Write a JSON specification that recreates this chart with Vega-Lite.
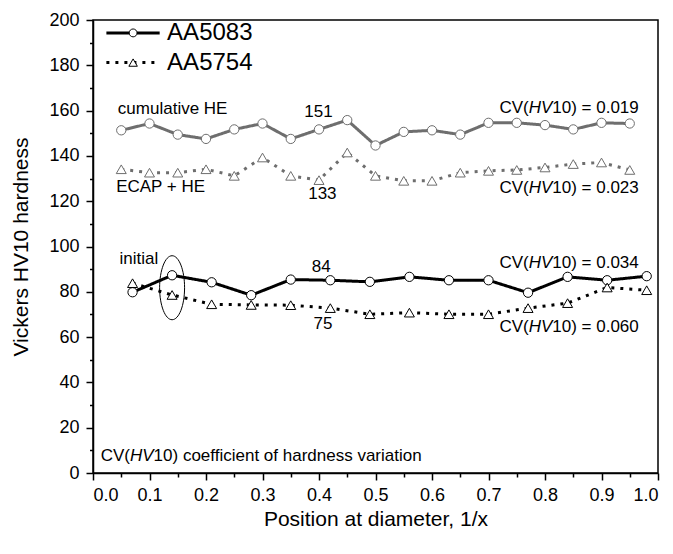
{
  "$schema": "https://vega.github.io/schema/vega-lite/v6.json",
  "width": 565,
  "height": 453,
  "autosize": {"type": "none"},
  "padding": {"left": 93, "top": 20, "right": 15, "bottom": 81},
  "background": "white",
  "config": {
    "font": "Liberation Sans",
    "view": {"stroke": "black", "strokeWidth": 1.5},
    "axis": {
      "domainColor": "black", "domainWidth": 1.5, "tickColor": "black", "tickWidth": 1.5,
      "labelColor": "black", "titleColor": "black", "labelFontSize": 18, "titleFontSize": 21,
      "titleFontWeight": "normal", "grid": false, "labelFont": "Liberation Sans", "titleFont": "Liberation Sans"
    },
    "text": {"font": "Liberation Sans", "fontSize": 17, "color": "black", "baseline": "middle"}
  },
  "datasets": {
    "hv": [
      {"pos": 0.07, "hv": 79.8, "alloy": "AA5083", "state": "initial"},
      {"pos": 0.14, "hv": 87.3, "alloy": "AA5083", "state": "initial"},
      {"pos": 0.21, "hv": 84.2, "alloy": "AA5083", "state": "initial"},
      {"pos": 0.28, "hv": 78.5, "alloy": "AA5083", "state": "initial"},
      {"pos": 0.35, "hv": 85.4, "alloy": "AA5083", "state": "initial"},
      {"pos": 0.42, "hv": 85.1, "alloy": "AA5083", "state": "initial"},
      {"pos": 0.49, "hv": 84.4, "alloy": "AA5083", "state": "initial"},
      {"pos": 0.56, "hv": 86.6, "alloy": "AA5083", "state": "initial"},
      {"pos": 0.63, "hv": 85.1, "alloy": "AA5083", "state": "initial"},
      {"pos": 0.70, "hv": 85.1, "alloy": "AA5083", "state": "initial"},
      {"pos": 0.77, "hv": 79.6, "alloy": "AA5083", "state": "initial"},
      {"pos": 0.84, "hv": 86.6, "alloy": "AA5083", "state": "initial"},
      {"pos": 0.91, "hv": 85.1, "alloy": "AA5083", "state": "initial"},
      {"pos": 0.98, "hv": 86.9, "alloy": "AA5083", "state": "initial"},
      {"pos": 0.07, "hv": 83.8, "alloy": "AA5754", "state": "initial"},
      {"pos": 0.14, "hv": 78.6, "alloy": "AA5754", "state": "initial"},
      {"pos": 0.21, "hv": 74.5, "alloy": "AA5754", "state": "initial"},
      {"pos": 0.28, "hv": 74.2, "alloy": "AA5754", "state": "initial"},
      {"pos": 0.35, "hv": 74.1, "alloy": "AA5754", "state": "initial"},
      {"pos": 0.42, "hv": 72.8, "alloy": "AA5754", "state": "initial"},
      {"pos": 0.49, "hv": 70.1, "alloy": "AA5754", "state": "initial"},
      {"pos": 0.56, "hv": 70.8, "alloy": "AA5754", "state": "initial"},
      {"pos": 0.63, "hv": 70.1, "alloy": "AA5754", "state": "initial"},
      {"pos": 0.70, "hv": 70.1, "alloy": "AA5754", "state": "initial"},
      {"pos": 0.77, "hv": 72.8, "alloy": "AA5754", "state": "initial"},
      {"pos": 0.84, "hv": 75.0, "alloy": "AA5754", "state": "initial"},
      {"pos": 0.91, "hv": 81.9, "alloy": "AA5754", "state": "initial"},
      {"pos": 0.98, "hv": 80.7, "alloy": "AA5754", "state": "initial"},
      {"pos": 0.05, "hv": 151.3, "alloy": "AA5083", "state": "processed"},
      {"pos": 0.10, "hv": 154.3, "alloy": "AA5083", "state": "processed"},
      {"pos": 0.15, "hv": 149.4, "alloy": "AA5083", "state": "processed"},
      {"pos": 0.20, "hv": 147.5, "alloy": "AA5083", "state": "processed"},
      {"pos": 0.25, "hv": 151.7, "alloy": "AA5083", "state": "processed"},
      {"pos": 0.30, "hv": 154.3, "alloy": "AA5083", "state": "processed"},
      {"pos": 0.35, "hv": 147.5, "alloy": "AA5083", "state": "processed"},
      {"pos": 0.40, "hv": 151.7, "alloy": "AA5083", "state": "processed"},
      {"pos": 0.45, "hv": 155.8, "alloy": "AA5083", "state": "processed"},
      {"pos": 0.50, "hv": 144.6, "alloy": "AA5083", "state": "processed"},
      {"pos": 0.55, "hv": 150.6, "alloy": "AA5083", "state": "processed"},
      {"pos": 0.60, "hv": 151.3, "alloy": "AA5083", "state": "processed"},
      {"pos": 0.65, "hv": 149.4, "alloy": "AA5083", "state": "processed"},
      {"pos": 0.70, "hv": 154.6, "alloy": "AA5083", "state": "processed"},
      {"pos": 0.75, "hv": 154.6, "alloy": "AA5083", "state": "processed"},
      {"pos": 0.80, "hv": 153.6, "alloy": "AA5083", "state": "processed"},
      {"pos": 0.85, "hv": 151.7, "alloy": "AA5083", "state": "processed"},
      {"pos": 0.90, "hv": 154.6, "alloy": "AA5083", "state": "processed"},
      {"pos": 0.95, "hv": 154.3, "alloy": "AA5083", "state": "processed"},
      {"pos": 0.05, "hv": 134.1, "alloy": "AA5754", "state": "processed"},
      {"pos": 0.10, "hv": 132.6, "alloy": "AA5754", "state": "processed"},
      {"pos": 0.15, "hv": 132.6, "alloy": "AA5754", "state": "processed"},
      {"pos": 0.20, "hv": 134.1, "alloy": "AA5754", "state": "processed"},
      {"pos": 0.25, "hv": 131.2, "alloy": "AA5754", "state": "processed"},
      {"pos": 0.30, "hv": 139.3, "alloy": "AA5754", "state": "processed"},
      {"pos": 0.35, "hv": 131.2, "alloy": "AA5754", "state": "processed"},
      {"pos": 0.40, "hv": 129.3, "alloy": "AA5754", "state": "processed"},
      {"pos": 0.45, "hv": 141.5, "alloy": "AA5754", "state": "processed"},
      {"pos": 0.50, "hv": 131.2, "alloy": "AA5754", "state": "processed"},
      {"pos": 0.55, "hv": 129.0, "alloy": "AA5754", "state": "processed"},
      {"pos": 0.60, "hv": 129.0, "alloy": "AA5754", "state": "processed"},
      {"pos": 0.65, "hv": 132.6, "alloy": "AA5754", "state": "processed"},
      {"pos": 0.70, "hv": 133.4, "alloy": "AA5754", "state": "processed"},
      {"pos": 0.75, "hv": 133.8, "alloy": "AA5754", "state": "processed"},
      {"pos": 0.80, "hv": 134.9, "alloy": "AA5754", "state": "processed"},
      {"pos": 0.85, "hv": 136.4, "alloy": "AA5754", "state": "processed"},
      {"pos": 0.90, "hv": 137.1, "alloy": "AA5754", "state": "processed"},
      {"pos": 0.95, "hv": 133.8, "alloy": "AA5754", "state": "processed"}
    ],
    "keyline": [
      {"pos": 0.0237, "hv": 194.3, "alloy": "AA5083"},
      {"pos": 0.118, "hv": 194.3, "alloy": "AA5083"},
      {"pos": 0.0237, "hv": 181.2, "alloy": "AA5754"},
      {"pos": 0.118, "hv": 181.2, "alloy": "AA5754"}
    ],
    "keymark": [
      {"pos": 0.071, "hv": 194.3, "alloy": "AA5083"},
      {"pos": 0.071, "hv": 181.2, "alloy": "AA5754"}
    ],
    "notes": [
      {"pos": 0.044, "hv": 160.8, "label": "cumulative HE", "kind": "left"},
      {"pos": 0.041, "hv": 126.4, "label": "ECAP + HE", "kind": "left"},
      {"pos": 0.047, "hv": 94.6, "label": "initial", "kind": "left"},
      {"pos": 0.399, "hv": 159.2, "label": "151", "kind": "center"},
      {"pos": 0.406, "hv": 123.0, "label": "133", "kind": "center"},
      {"pos": 0.404, "hv": 91.0, "label": "84", "kind": "center"},
      {"pos": 0.407, "hv": 65.6, "label": "75", "kind": "center"}
    ],
    "cv": [
      {"pos": 0.966, "hv": 161.2, "tail": "10) = 0.019"},
      {"pos": 0.966, "hv": 125.9, "tail": "10) = 0.023"},
      {"pos": 0.966, "hv": 92.8, "tail": "10) = 0.034"},
      {"pos": 0.966, "hv": 64.5, "tail": "10) = 0.060"}
    ],
    "note": [
      {"pos": 0.0136, "hv": 7.4, "tail": "10) coefficient of hardness variation"}
    ],
    "ellipse": [
      {"pos": 0.140, "hv": 81.8}
    ]
  },
  "encoding": {
    "x": {"field": "pos", "type": "quantitative", "scale": {"domain": [0, 1], "nice": false}, "axis": null},
    "y": {"field": "hv", "type": "quantitative", "scale": {"domain": [0, 200], "nice": false}, "axis": null}
  },
  "layer": [
    {
      "data": {"name": "hv"},
      "mark": {"type": "line", "strokeWidth": 3, "strokeCap": "butt"},
      "encoding": {
        "x": {"field": "pos", "type": "quantitative", "scale": {"domain": [0, 1], "nice": false},
          "axis": {"orient": "bottom", "values": [0.05, 0.15, 0.25, 0.35, 0.45, 0.55, 0.65, 0.75, 0.85, 0.95], "labels": false, "domain": false, "tickSize": 4, "title": null}},
        "y": {"field": "hv", "type": "quantitative", "scale": {"domain": [0, 200], "nice": false},
          "axis": {"orient": "left", "values": [10, 30, 50, 70, 90, 110, 130, 150, 170, 190], "labels": false, "domain": false, "tickSize": 3.5, "title": null}},
        "stroke": {"field": "state", "type": "nominal", "scale": {"range": ["black", "#6e6e6e"]}, "legend": null},
        "strokeDash": {"field": "alloy", "type": "nominal", "scale": {"range": [[1, 0], [3, 6]]}, "legend": null}
      }
    },
    {
      "data": {"name": "hv"},
      "mark": {"type": "point", "filled": false, "fill": "white", "fillOpacity": 1, "strokeWidth": 1, "opacity": 1, "size": 100},
      "encoding": {
        "x": {"field": "pos", "type": "quantitative", "scale": {"domain": [0, 1], "nice": false},
          "axis": {"orient": "bottom", "values": [0, 0.1, 0.2, 0.3, 0.4, 0.5, 0.6, 0.7, 0.8, 0.9, 1.0], "format": ".1f", "tickSize": 7, "labelPadding": 6, "title": "Position at diameter, 1/x", "titlePadding": 4}},
        "y": {"field": "hv", "type": "quantitative", "scale": {"domain": [0, 200], "nice": false},
          "axis": {"orient": "left", "values": [0, 20, 40, 60, 80, 100, 120, 140, 160, 180, 200], "tickSize": 7, "labelPadding": 7, "title": "Vickers HV10 hardness", "titlePadding": 17}},
        "stroke": {"field": "state", "type": "nominal", "scale": {"range": ["black", "#6e6e6e"]}, "legend": null},
        "shape": {"field": "alloy", "type": "nominal", "scale": {"domain": ["AA5083", "AA5754"], "range": ["M -0.93 0 A 0.93 0.93 0 1 1 0.93 0 A 0.93 0.93 0 1 1 -0.93 0 Z", "triangle-up"]}, "legend": null}
      }
    },
    {
      "data": {"name": "keyline"},
      "mark": {"type": "line", "strokeWidth": 3, "strokeCap": "butt", "color": "black"},
      "encoding": {
        "strokeDash": {"field": "alloy", "type": "nominal", "legend": null}
      }
    },
    {
      "data": {"name": "keymark"},
      "mark": {"type": "point", "filled": false, "fill": "white", "fillOpacity": 1, "stroke": "black", "strokeWidth": 1, "opacity": 1, "size": 72},
      "encoding": {
        "shape": {"field": "alloy", "type": "nominal", "legend": null}
      }
    },
    {
      "data": {"name": "keymark"},
      "mark": {"type": "text", "align": "left", "dx": 34, "fontSize": 24},
      "encoding": {"text": {"field": "alloy"}}
    },
    {
      "data": {"name": "ellipse"},
      "mark": {"type": "point", "shape": "M 0 -1 A 0.39 1 0 1 1 0 1 A 0.39 1 0 1 1 0 -1 Z", "size": 4096, "filled": false, "color": "black", "strokeWidth": 1, "opacity": 1}
    },
    {
      "data": {"name": "notes"},
      "transform": [{"filter": "datum.kind === 'left'"}],
      "mark": {"type": "text", "align": "left"},
      "encoding": {"text": {"field": "label"}}
    },
    {
      "data": {"name": "notes"},
      "transform": [{"filter": "datum.kind === 'center'"}],
      "mark": {"type": "text", "align": "center"},
      "encoding": {"text": {"field": "label"}}
    },
    {
      "data": {"name": "cv"},
      "mark": {"type": "text", "align": "right"},
      "encoding": {"text": {"field": "tail"}}
    },
    {
      "data": {"name": "cv"},
      "mark": {"type": "text", "align": "right", "dx": -86.5, "fontStyle": "italic"},
      "encoding": {"text": {"value": "HV"}}
    },
    {
      "data": {"name": "cv"},
      "mark": {"type": "text", "align": "right", "dx": -110.1},
      "encoding": {"text": {"value": "CV("}}
    },
    {
      "data": {"name": "note"},
      "mark": {"type": "text", "align": "left"},
      "encoding": {"text": {"value": "CV("}}
    },
    {
      "data": {"name": "note"},
      "mark": {"type": "text", "align": "left", "dx": 29.3, "fontStyle": "italic"},
      "encoding": {"text": {"value": "HV"}}
    },
    {
      "data": {"name": "note"},
      "mark": {"type": "text", "align": "left", "dx": 52.9},
      "encoding": {"text": {"field": "tail"}}
    }
  ],
  "resolve": {"axis": {"x": "independent", "y": "independent"}}
}
